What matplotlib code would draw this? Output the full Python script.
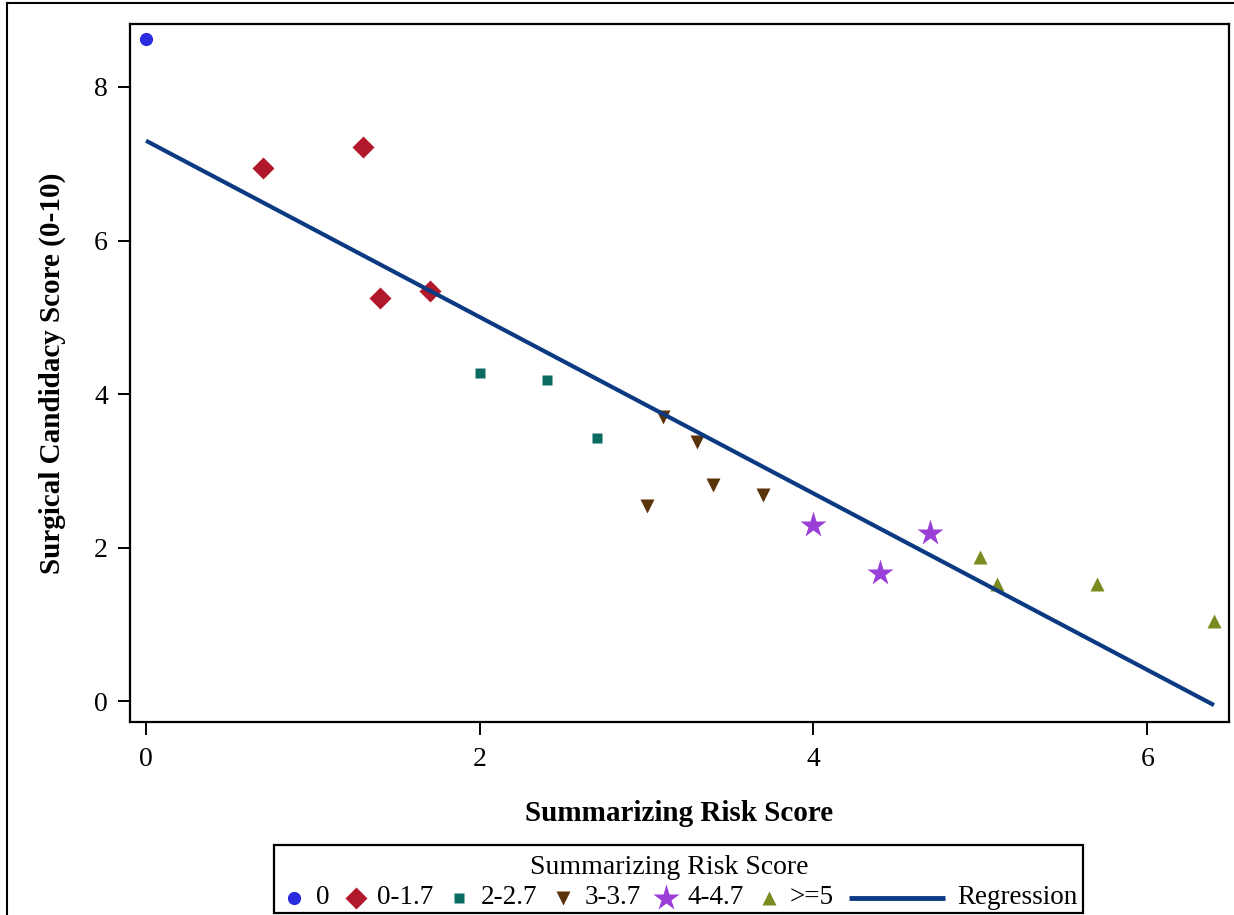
import matplotlib
matplotlib.use('Agg')
import matplotlib.pyplot as plt
from matplotlib.lines import Line2D
from matplotlib.patches import Rectangle

plt.rcParams['font.family'] = 'Liberation Serif'

# risk groups: x = summarizing risk score, y = surgical candidacy score
x_0 = [0.0]
y_0 = [8.62]
x_017 = [0.7, 1.3, 1.4, 1.7]
y_017 = [6.95, 7.22, 5.25, 5.34]
x_227 = [2.0, 2.4, 2.7]
y_227 = [4.28, 4.18, 3.43]
x_337 = [3.0, 3.1, 3.3, 3.4, 3.7]
y_337 = [2.54, 3.70, 3.37, 2.81, 2.68]
x_447 = [4.0, 4.4, 4.7]
y_447 = [2.30, 1.67, 2.19]
x_5 = [5.0, 5.1, 5.7, 6.4]
y_5 = [1.88, 1.53, 1.53, 1.05]

reg_x = [0.0, 6.4]
reg_y = [7.30, -0.05]

group_labels = ['0', '0-1.7', '2-2.7', '3-3.7', '4-4.7', '>=5']
xticks = [0, 2, 4, 6]
yticks = [0, 2, 4, 6, 8]

W, H = 1234, 915
fig = plt.figure(figsize=(W / 100, H / 100), dpi=100)
ax = fig.add_axes([130 / W, 1 - 722 / H, 1099 / W, 698 / H])

groups = [
    (x_0, y_0, 'o', 9.5, '#2b2bdf'),
    (x_017, y_017, 'D', 11.5, '#b2182b'),
    (x_227, y_227, 's', 7, '#0c6b61'),
    (x_337, y_337, 'v', 9.5, '#5b330a'),
    (x_447, y_447, '*', 20, '#9b3fd9'),
    (x_5, y_5, '^', 9.5, '#7c8b1f'),
]
for gx, gy, m, ms, c in groups:
    ax.plot(gx, gy, linestyle='none', marker=m, markersize=ms, color=c, mec='none')

line_col = '#0b3a82'
ax.plot(reg_x, reg_y, color=line_col, lw=3, solid_capstyle='butt')

ax.set_xlim(-0.096, 6.49)
ax.set_ylim(-0.27, 8.82)
ax.set_xticks(xticks)
ax.set_yticks(yticks)
ax.tick_params(direction='out', length=9, width=1.4, labelsize=20, pad=7)
ax.tick_params(axis='x', pad=9)
for s in ax.spines.values():
    s.set_linewidth(1.6)

ax.set_xlabel('Summarizing Risk Score', fontsize=21, fontweight='bold', labelpad=20)
ax.set_ylabel('Surgical Candidacy Score (0-10)', fontsize=21, fontweight='bold', labelpad=20)

# legend box laid out by hand (marker centre / label start, in pixels)
fig.add_artist(Rectangle((274 / W, 1 - 913 / H), 809 / W, 68 / H, transform=fig.transFigure,
                         facecolor='white', edgecolor='black', lw=1.6))
fig.text(669 / W, 1 - 867 / H, 'Summarizing Risk Score', fontsize=20, ha='center', va='center')
row_y = 1 - 898 / H
marker_px = [294, 356, 459, 563, 666, 769]
label_px = [316, 377, 481, 585, 687, 790]
for (gx, gy, m, ms, c), lab, mx, tx in zip(groups, group_labels, marker_px, label_px):
    fig.add_artist(Line2D([mx / W], [row_y], linestyle='none', marker=m, markersize=ms,
                          color=c, mec='none'))
    fig.text(tx / W, row_y, lab, fontsize=19.5, ha='left', va='center')
fig.add_artist(Line2D([849 / W, 945 / W], [row_y, row_y], color=line_col, lw=3.5,
                      solid_capstyle='butt'))
fig.text(957 / W, row_y, 'Regression', fontsize=19.5, ha='left', va='center')

# outer border (left and top edges visible)
fig.add_artist(Line2D([7 / W, 7 / W], [0, 1 - 3 / H], color='black', lw=1.5))
fig.add_artist(Line2D([7 / W, 1], [1 - 3 / H, 1 - 3 / H], color='black', lw=1.5))

fig.savefig('out.png', dpi=100)
